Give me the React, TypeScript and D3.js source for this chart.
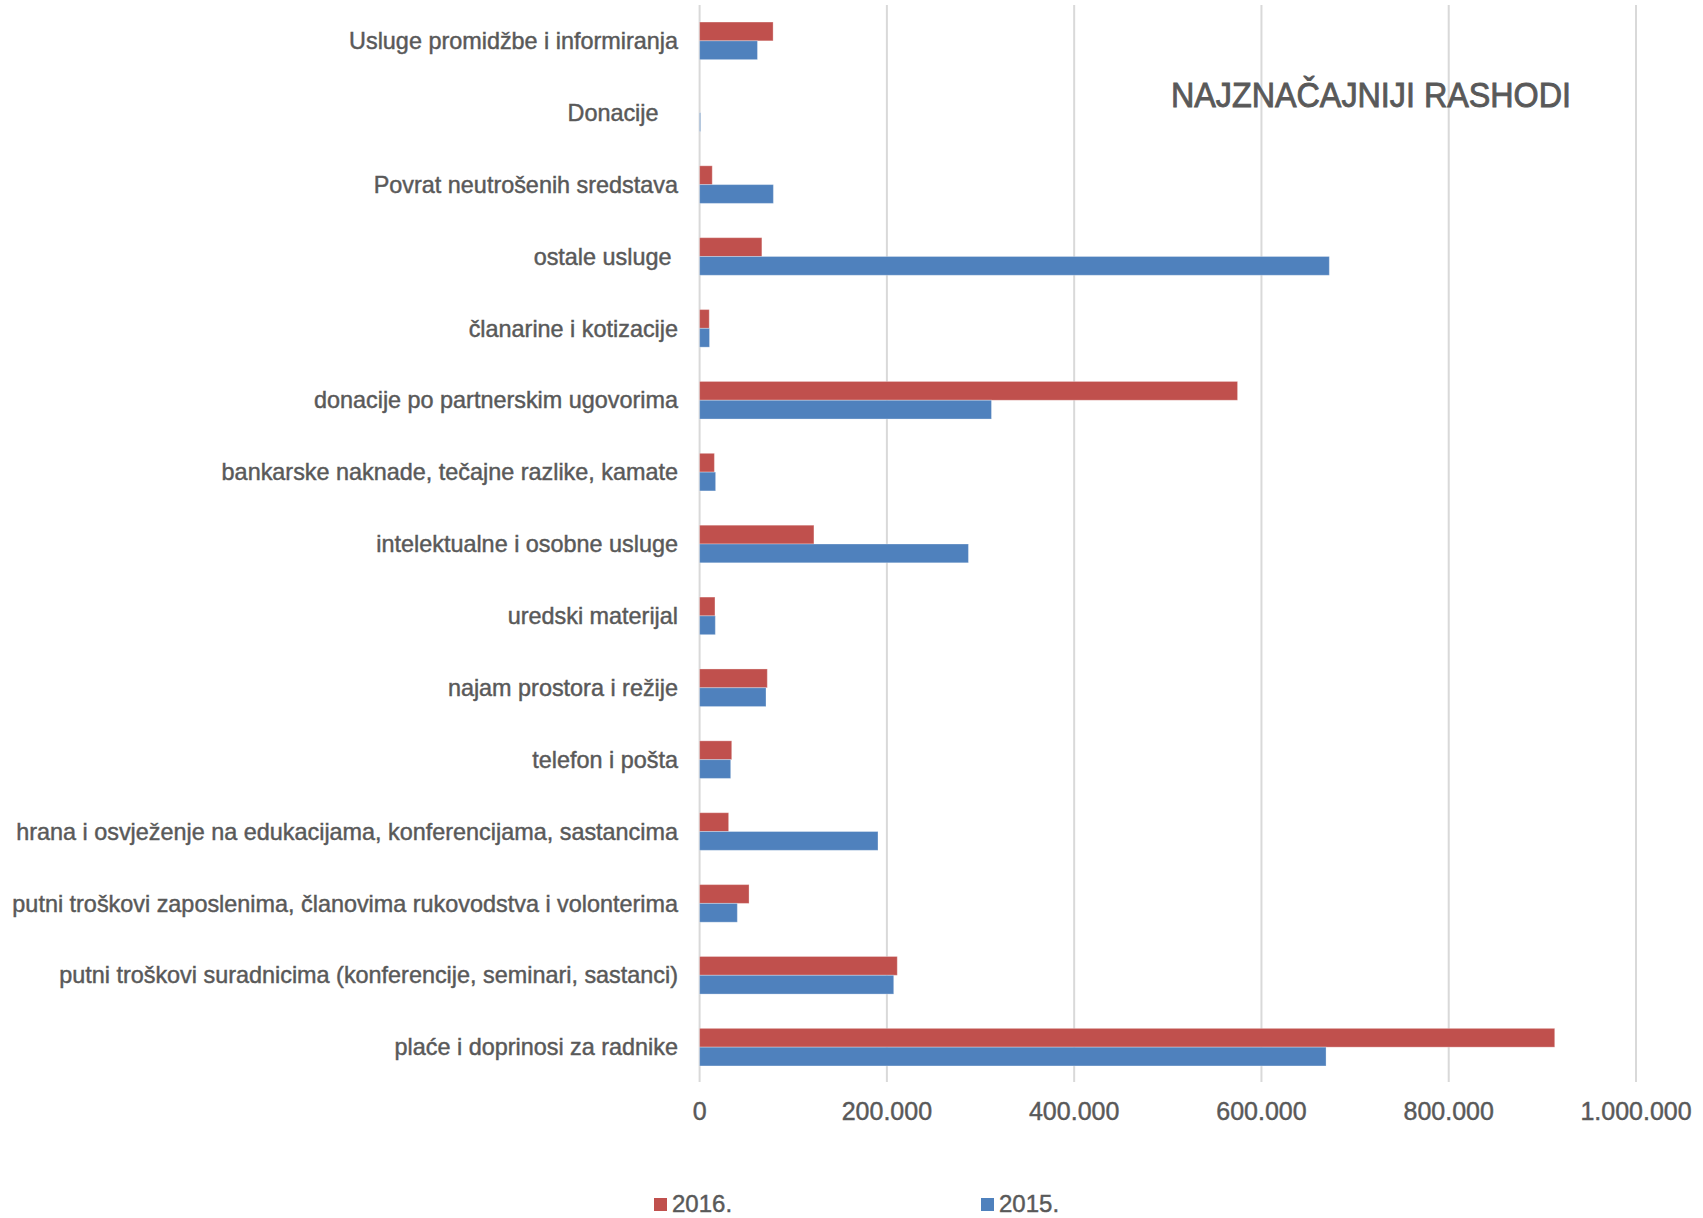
import React from 'react';
import * as d3 from 'd3';

// categories, top to bottom as shown
const categories = [
  'Usluge promidžbe i informiranja',
  'Donacije   ',
  'Povrat neutrošenih sredstava',
  'ostale usluge ',
  'članarine i kotizacije',
  'donacije po partnerskim ugovorima',
  'bankarske naknade, tečajne razlike, kamate',
  'intelektualne i osobne usluge',
  'uredski materijal',
  'najam prostora i režije',
  'telefon i pošta',
  'hrana i osvježenje na edukacijama, konferencijama, sastancima',
  'putni troškovi zaposlenima, članovima rukovodstva i volonterima',
  'putni troškovi suradnicima (konferencije, seminari, sastanci)',
  'plaće i doprinosi za radnike',
];

const values2016 = [
  78500, 0, 13500, 66500, 10300, 574500, 15800, 122100, 16400, 72300, 34300,
  31000, 52800, 211100, 913200,
];
const values2015 = [
  61800, 1000, 78800, 672500, 10600, 311700, 17100, 287100, 16800, 70900,
  33200, 190500, 40300, 207300, 669000,
];

const seriesNames = ['2016.', '2015.'];
const seriesColors = ['#C0504D', '#4F81BD'];
const xTicks = [0, 200000, 400000, 600000, 800000, 1000000];
const title = 'NAJZNAČAJNIJI RASHODI';

const W = 1703;
const H = 1218;
const font = "'Liberation Sans', Arial, sans-serif";
const textColor = '#595959';

const fmt = d3
  .formatLocale({ decimal: ',', thousands: '.', grouping: [3], currency: ['', ''] })
  .format(',');

export default function App() {
  const x = d3.scaleLinear().domain([0, 1000000]).range([699.6, 1636]);
  const y = d3.scaleBand().domain(categories).range([4.9, 1083.1]);
  const inner = d3
    .scaleBand()
    .domain(seriesNames)
    .range([0, y.bandwidth()])
    .paddingOuter(0.912);

  const series = [values2016, values2015];
  const plotTop = 5;
  const plotBottom = 1082;

  return (
    <svg
      width={W}
      height={H}
      style={{ position: 'absolute', left: 0, top: 0, background: '#fff' }}
      fontFamily={font}
    >
      {/* gridlines */}
      {xTicks.map((t) => (
        <line
          key={t}
          x1={x(t)}
          x2={x(t)}
          y1={plotTop}
          y2={plotBottom}
          stroke="#d9d9d9"
          strokeWidth={2}
        />
      ))}

      {/* bars */}
      {categories.map((c, i) => (
        <g key={c} transform={`translate(0,${y(c)})`}>
          {seriesNames.map((s, j) => (
            <rect
              key={s}
              x={x(0)}
              y={inner(s)}
              width={Math.max(0, x(series[j][i]) - x(0))}
              height={inner.bandwidth()}
              fill={seriesColors[j]}
              stroke="#fff"
              strokeOpacity={0.3}
              strokeWidth={1}
            />
          ))}
        </g>
      ))}

      {/* category labels */}
      {categories.map((c) => (
        <text
          key={c}
          x={678}
          y={(y(c) as number) + y.bandwidth() / 2}
          dy="0.35em"
          textAnchor="end"
          fontSize={23.4}
          fill={textColor}
          stroke={textColor}
          strokeWidth={0.45}
          style={{ whiteSpace: 'pre' }}
        >
          {c}
        </text>
      ))}

      {/* x tick labels */}
      {xTicks.map((t) => (
        <text
          key={t}
          x={x(t)}
          y={1120}
          textAnchor="middle"
          fontSize={25}
          fill={textColor}
          stroke={textColor}
          strokeWidth={0.45}
        >
          {fmt(t)}
        </text>
      ))}

      {/* title */}
      <text
        x={1171}
        y={106.5}
        fontSize={35}
        fill={textColor}
        stroke={textColor}
        strokeWidth={0.9}
        textLength={400}
        lengthAdjust="spacingAndGlyphs"
      >
        {title}
      </text>

      {/* legend */}
      {seriesNames.map((s, j) => {
        const lx = [654, 981][j];
        return (
          <g key={s}>
            <rect x={lx} y={1198} width={13} height={13} fill={seriesColors[j]} />
            <text
              x={lx + 18}
              y={1212}
              fontSize={24}
              fill={textColor}
              stroke={textColor}
              strokeWidth={0.45}
            >
              {s}
            </text>
          </g>
        );
      })}
    </svg>
  );
}
